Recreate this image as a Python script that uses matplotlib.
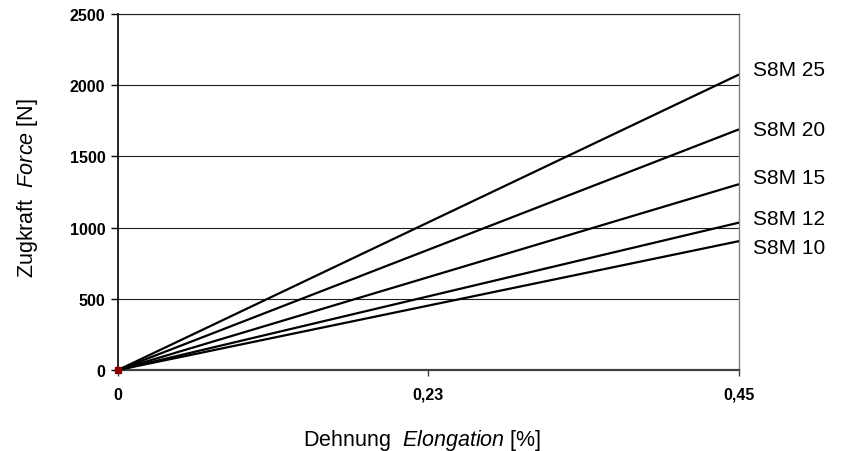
#!/usr/bin/env python3
"""Force vs. elongation for S8M belt widths."""

import matplotlib
matplotlib.use("Agg")
import matplotlib.pyplot as plt

plt.rcParams["font.family"] = ["Liberation Sans", "DejaVu Sans"]
plt.rcParams["mathtext.fontset"] = "custom"
plt.rcParams["mathtext.rm"] = "Liberation Sans"
plt.rcParams["mathtext.it"] = "Liberation Sans:italic"

# data
belts = ["S8M 25", "S8M 20", "S8M 15", "S8M 12", "S8M 10"]
elong_start = 0.0
elong_end = 0.45
force_end = [2075, 1690, 1305, 1035, 905]
x_ticks = [0.0, 0.225, 0.45]
x_tick_labels = ["0", "0,23", "0,45"]
y_ticks = [0, 500, 1000, 1500, 2000, 2500]

# label nudges (points) so the names don't collide
label_dy = [3.5, 0.0, 5.0, 3.0, -4.3]

fig = plt.figure(figsize=(8.5, 4.52), dpi=100)
ax = fig.add_axes([0.1388, 0.1792, 0.7306, 0.7876])

for name, fend, dy in zip(belts, force_end, label_dy):
    ax.plot([elong_start, elong_end], [0, fend], color="black", linewidth=1.6,
            solid_capstyle="butt", zorder=3)
    ax.annotate(name, xy=(elong_end, fend), xytext=(10, dy),
                textcoords="offset points", ha="left", va="center",
                fontsize=15, annotation_clip=False)

ax.plot([elong_start], [0], marker="s", color="#8b0000", markersize=4,
        zorder=5, clip_on=False)

ax.set_xlim(elong_start, elong_end)
ax.set_ylim(0, 2500)
ax.set_xticks(x_ticks)
ax.set_xticklabels(x_tick_labels, fontweight="bold", fontsize=11.5)
ax.set_yticks(y_ticks)
ax.set_yticklabels([str(v) for v in y_ticks], fontweight="bold", fontsize=11.5)
ax.tick_params(axis="y", direction="out", length=5, width=1, pad=4)
ax.tick_params(axis="x", direction="out", length=4, width=1, pad=8,
               color="#404040")

ax.yaxis.grid(True, color="#202020", linewidth=0.8)
ax.set_axisbelow(True)

ax.spines["left"].set_color("black")
ax.spines["left"].set_linewidth(1.2)
ax.spines["bottom"].set_color("#404040")
ax.spines["bottom"].set_linewidth(1.6)
ax.spines["right"].set_color("#808080")
ax.spines["right"].set_linewidth(1.0)
ax.spines["top"].set_color("#202020")
ax.spines["top"].set_linewidth(0.8)

ax.set_xlabel(r"Dehnung  $\it{Elongation}$ [%]", fontsize=15.5)
ax.xaxis.set_label_coords(0.49, -0.16)
ax.set_ylabel(r"Zugkraft  $\it{Force}$ [N]", fontsize=15.5)
ax.yaxis.set_label_coords(-0.125, 0.515)

fig.savefig("out.png", dpi=100)
